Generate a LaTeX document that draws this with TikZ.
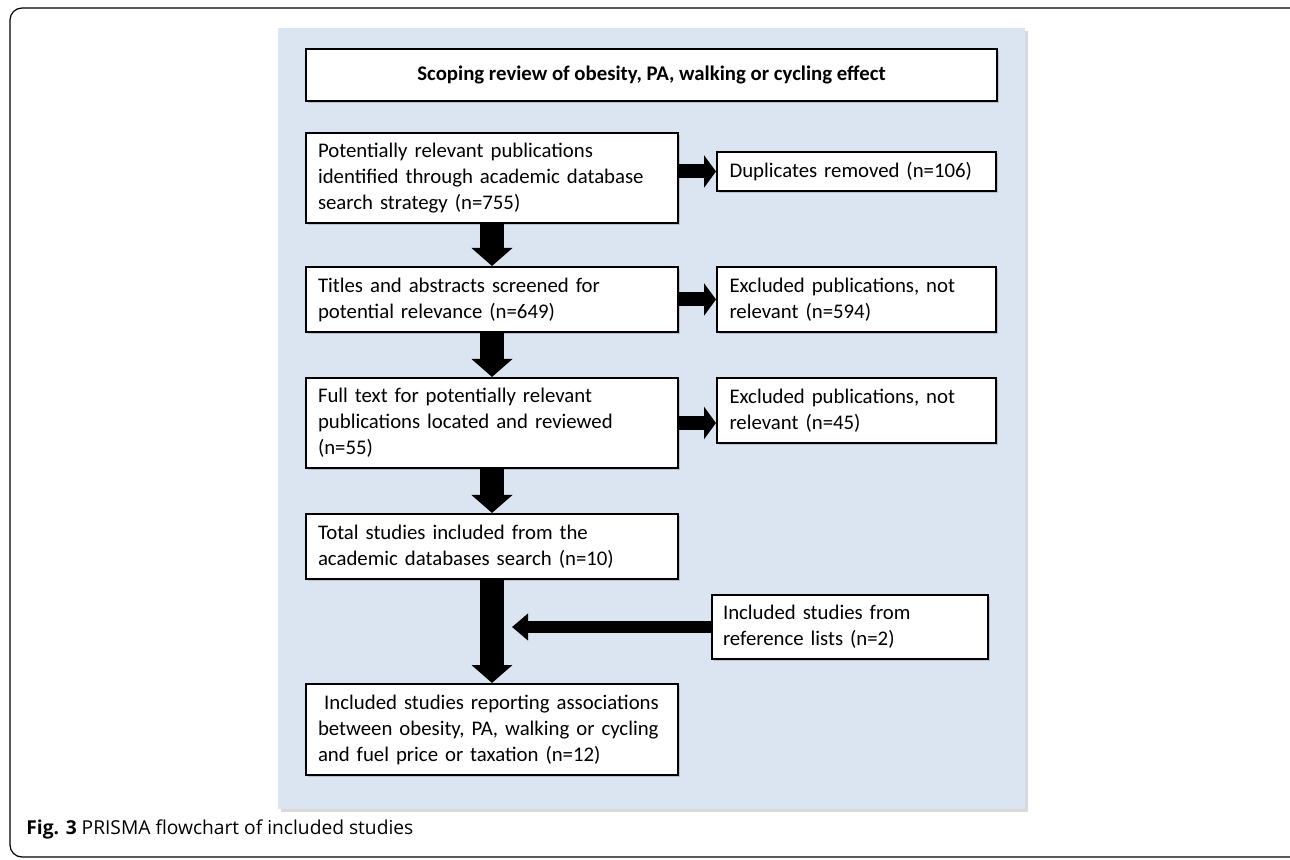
\documentclass[tikz,border=0pt]{standalone}
\usepackage{fontspec}
\setmainfont{Carlito}
\newfontfamily\capfont{Open Sans}
\usepackage{tikz}
\usetikzlibrary{arrows.meta,shadows}
\definecolor{panelblue}{HTML}{DBE5F1}

\begin{document}
\begin{tikzpicture}[x=0.5pt,y=-0.5pt,
    box/.style={draw=black, line width=1pt, fill=white, inner sep=0pt, align=left,
        font=\fontsize{10.4}{13}\selectfont,
        drop shadow={shadow xshift=1pt, shadow yshift=-1pt, opacity=0.35}},
    mainbox/.style={box, minimum width=186pt, text width=174pt},
    sidebox/.style={box, minimum width=139.5pt, text width=127pt},
    fatarrow/.style={line width=12pt, -{Triangle[width=20pt,length=9pt]}},
    sidearrow/.style={line width=7pt, -{Triangle[width=16pt,length=6pt]}}]
        \useasboundingbox (0,0) rectangle (1290,860);
        \clip (0,0) rectangle (1290,860);

        % frame and panel
        \draw[black, line width=0.6pt, rounded corners=6pt] (10,8) rectangle (1310,857);
        \path[fill=panelblue, drop shadow={shadow xshift=1.5pt, shadow yshift=-1.5pt, opacity=0.3}]
            (278,28) rectangle (1025,809);

        \node[box, minimum width=345.5pt, minimum height=26pt, align=center, font=\bfseries\fontsize{10.4}{13}\selectfont]
            (title) at (651.5,75) {Scoping review of obesity, PA, walking or cycling effect};

        % left column
        \node[mainbox, minimum height=45pt] (pub) at (492,178)
            {Potentially relevant publications\\identified through academic database\\search strategy (n=755)};
        \node[mainbox, minimum height=32.5pt] (screen) at (492,299.5)
            {Titles and abstracts screened for\\potential relevance (n=649)};
        \node[mainbox, minimum height=45pt] (fulltext) at (492,423)
            {Full text for potentially relevant\\publications located and reviewed\\(n=55)};
        \node[mainbox, minimum height=32.5pt] (total) at (492,546.5)
            {Total studies included from the\\academic databases search (n=10)};
        \node[mainbox, minimum height=45.5pt] (incl) at (492,729.5)
            {\hspace{0.3em}Included studies reporting associations\\between obesity, PA, walking or cycling\\and fuel price or taxation (n=12)};

        % right column
        \node[sidebox, minimum height=19.5pt] (dup) at (856.5,171.5) {Duplicates removed (n=106)};
        \node[sidebox, minimum height=32.5pt] (excla) at (856.5,299.5)
            {Excluded publications, not\\relevant (n=594)};
        \node[sidebox, minimum height=32.5pt] (exclb) at (856.5,410.5)
            {Excluded publications, not\\relevant (n=45)};
        \node[sidebox, minimum width=138pt, minimum height=32pt] (ref) at (850,627)
            {Included studies from\\reference lists (n=2)};
        \coordinate (join) at (512,627);

        % arrows
        \draw[fatarrow] (pub) -- (screen);
        \draw[fatarrow] (screen) -- (fulltext);
        \draw[fatarrow] (fulltext) -- (total);
        \draw[fatarrow] (total) -- (incl);

        \draw[sidearrow] (pub.east |- dup.west) -- (dup.west);
        \draw[sidearrow] (screen.east) -- (excla.west);
        \draw[sidearrow] (fulltext.east) -- (fulltext.east -| exclb.west);
        \draw[line width=6pt, -{Triangle[width=13pt,length=8pt]}] (ref.west) -- (join);

        \node[anchor=base west, inner sep=0pt, font=\capfont\fontsize{9.6}{11}\selectfont] (caption) at (26,834)
            {\textbf{Fig. 3} PRISMA flowchart of included studies};
      \end{tikzpicture}
\end{document}
